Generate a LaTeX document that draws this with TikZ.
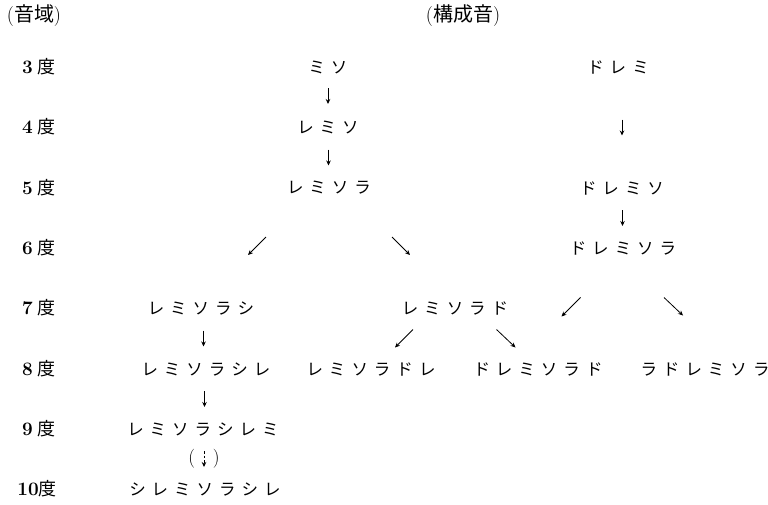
\documentclass[tikz,border=0pt]{standalone}
\usepackage{fontspec}
\newfontfamily\jp{Noto Sans CJK JP}
\usetikzlibrary{calc,arrows.meta}
\newlength\kgap \setlength\kgap{6pt}
\makeatletter
\def\ksp#1{\ksp@a#1\relax}
\def\ksp@a#1#2{#1\ifx\relax#2\else\hspace{\kgap}\expandafter\ksp@a\expandafter#2\fi}
\makeatother
\tikzset{
  kana/.style={font={\jp\fontsize{16.5}{18}\selectfont}, inner sep=0pt},
  head/.style={font={\jp\fontsize{20}{22}\selectfont}, inner sep=0pt},
  deg/.style={font={\jp\fontsize{18}{20}\selectfont}, inner sep=0pt, anchor=east},
  arr/.style={line width=0.8pt, -{Stealth[length=5pt,width=4.5pt]}},
  darr/.style={arr, dash pattern=on 2.5pt off 2pt}
}
\newcommand\dg[1]{{\rmfamily\bfseries\fontsize{19}{22}\selectfont #1}}
\newcommand\pr[1]{{\rmfamily\fontsize{20}{22}\selectfont #1}}
\begin{document}
\begin{tikzpicture}[x=1pt,y=-1pt]
\useasboundingbox (0,0) rectangle (768,504);
% headers
\node[head] (h1) at (34,16) {\pr{(}音域\pr{)}};
\node[head] (h2) at (463,16) {\pr{(}構成音\pr{)}};
% row labels
\node[deg] (l3) at (56,67) {\dg{3}\hspace{5pt}度};
\node[deg] (l4) at (56,127) {\dg{4}\hspace{5pt}度};
\node[deg] (l5) at (56,188) {\dg{5}\hspace{5pt}度};
\node[deg] (l6) at (56,248) {\dg{6}\hspace{5pt}度};
\node[deg] (l7) at (56,308) {\dg{7}\hspace{5pt}度};
\node[deg] (l8) at (56,369) {\dg{8}\hspace{5pt}度};
\node[deg] (l9) at (56,429) {\dg{9}\hspace{5pt}度};
\node[deg] (l10) at (57,489) {\dg{10}度};
% tones
\node[kana] (n3a) at (328,67) {\ksp{ミソ}};
\node[kana] (n4a) at (328,127) {\ksp{レミソ}};
\node[kana] (n5a) at (329,188) {\ksp{レミソラ}};
\node[kana] (n3b) at (618,67) {\ksp{ドレミ}};
\node[kana] (n5b) at (622,188) {\ksp{ドレミソ}};
\node[kana] (n6b) at (623,248) {\ksp{ドレミソラ}};
\node[kana] (n7a) at (201,308) {\ksp{レミソラシ}};
\node[kana] (n7b) at (455,308) {\ksp{レミソラド}};
\node[kana] (n8a) at (206,369) {\ksp{レミソラシレ}};
\node[kana] (n8b) at (371,369) {\ksp{レミソラドレ}};
\node[kana] (n8c) at (538,369) {\ksp{ドレミソラド}};
\node[kana] (n8d) at (705,369) {\ksp{ラドレミソラ}};
\node[kana] (n9a) at (203,429) {\ksp{レミソラシレミ}};
\node[kana] (n10a) at (205,489) {\ksp{シレミソラシレ}};
% vertical arrows
\draw[arr] ($(n3a)!0.5!(n4a)+(0,-9)$) -- ($(n3a)!0.5!(n4a)+(0,7)$);
\draw[arr] ($(n4a)!0.5!(n5a)+(0,-8)$) -- ($(n4a)!0.5!(n5a)+(0,8)$);
\draw[arr] ($(n3b)!0.5!(n5b)+(2,-8)$) -- ($(n3b)!0.5!(n5b)+(2,8)$);
\draw[arr] ($(n5b)!0.5!(n6b)+(0,-8)$) -- ($(n5b)!0.5!(n6b)+(0,8)$);
\draw[arr] ($(n7a)!0.5!(n8a)+(0,-8)$) -- ($(n7a)!0.5!(n8a)+(0,8)$);
\draw[arr] ($(n8a)!0.5!(n9a)+(0,-8)$) -- ($(n8a)!0.5!(n9a)+(0,8)$);
% optional step
\node[font={\rmfamily\fontsize{19}{20}\selectfont}, inner sep=0pt] (par) at ($(n9a)!0.5!(n10a)$) {(\hspace{18pt})};
\draw[darr] ($(par)+(0,-8)$) -- ($(par)+(0,8)$);
% diagonal arrows
\draw[arr] ($(n5a)!0.5!(n7a)+(1,-11)$) -- ($(n5a)!0.5!(n7a)+(-17,7)$);
\draw[arr] ($(n5a)!0.5!(n7b)+(0,-11)$) -- ($(n5a)!0.5!(n7b)+(18,7)$);
\draw[arr] ($(n6b)!0.5!(n8c)+(0,-11)$) -- ($(n6b)!0.5!(n8c)+(-19,8)$);
\draw[arr] ($(n6b)!0.5!(n8d)+(0,-11)$) -- ($(n6b)!0.5!(n8d)+(19,7)$);
\draw[arr] ($(n7b)!0.5!(n8b)+(0,-9)$) -- ($(n7b)!0.5!(n8b)+(-18,9)$);
\draw[arr] ($(n7b)!0.5!(n8c)+(0,-9)$) -- ($(n7b)!0.5!(n8c)+(19,9)$);
\end{tikzpicture}
\end{document}
